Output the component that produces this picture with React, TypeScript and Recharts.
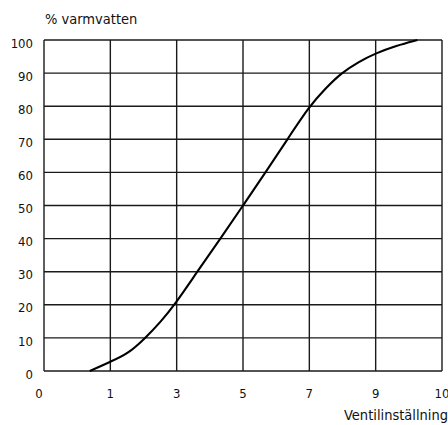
import React from "react";
import { LineChart, Line, XAxis, YAxis, CartesianGrid } from "recharts";

// Tick labels of the valve-setting axis (drawn equally spaced)
const xTickLabels = ["0", "1", "3", "5", "7", "9", "10"];
const xTickValues = [0, 1, 3, 5, 7, 9, 10];
const yTicks = [0, 10, 20, 30, 40, 50, 60, 70, 80, 90, 100];

// Curve: valve setting vs % hot water
const settings = [0.69, 1, 1.52, 2.06, 2.52, 2.94, 3.62, 4.32, 5, 5.68, 6.34, 7, 7.5, 7.96, 8.5, 9, 9.31, 9.63];
const hotWater = [0, 2.8, 5.1, 10, 14.9, 20, 30, 40, 50, 60, 70, 80, 85.5, 90, 93.5, 96, 98.3, 100];

// axis is drawn with equally spaced labels -> piecewise mapping to tick index
const toPos = (v: number) => {
  for (let i = 0; i < xTickValues.length - 1; i++) {
    const a = xTickValues[i];
    const b = xTickValues[i + 1];
    if (v <= b) return i + (v - a) / (b - a);
  }
  return xTickValues.length - 1;
};

const data = settings.map((s, i) => ({ pos: toPos(s), value: hotWater[i] }));

const FONT = "'DejaVu Sans Condensed', 'Liberation Sans Narrow', Arial, sans-serif";

const XTick = (props: any) => {
  const { x, y, payload } = props;
  const idx = payload.value as number;
  const shift = idx === 0 ? -5 : 0;
  return (
    <text
      x={x + shift}
      y={y}
      dy={19}
      textAnchor="middle"
      fill="#111"
      fontSize={13}
      fontFamily={FONT}
    >
      {xTickLabels[idx]}
    </text>
  );
};

export default function App() {
  return (
    <div style={{ position: "absolute", left: 0, top: 0, width: 448, height: 425, background: "#fff" }}>
      <LineChart
        width={448}
        height={425}
        data={data}
        margin={{ top: 40, right: 6, bottom: 24, left: 4 }}
      >
        <CartesianGrid stroke="#1a1a1a" strokeWidth={1.4} horizontal vertical />
        <XAxis
          dataKey="pos"
          type="number"
          domain={[0, 6]}
          ticks={[0, 1, 2, 3, 4, 5, 6]}
          axisLine={false}
          tickLine={false}
          height={30}
          tick={<XTick />}
          interval={0}
        />
        <YAxis
          type="number"
          domain={[0, 100]}
          ticks={yTicks}
          axisLine={false}
          tickLine={false}
          width={40}
          tick={{ fill: "#111", fontSize: 13, fontFamily: FONT, dy: 3, dx: -3 }}
          interval={0}
        />
        <Line
          type="basis"
          dataKey="value"
          stroke="#000"
          strokeWidth={2.1}
          dot={false}
          isAnimationActive={false}
        />
      </LineChart>
      <div
        style={{
          position: "absolute",
          left: 45,
          top: 11,
          fontFamily: FONT,
          fontSize: 14.5,
          color: "#111",
        }}
      >
        % varmvatten
      </div>
      <div
        style={{
          position: "absolute",
          right: 0,
          top: 407,
          fontFamily: FONT,
          fontSize: 14.5,
          color: "#111",
        }}
      >
        Ventilinställning
      </div>
    </div>
  );
}
